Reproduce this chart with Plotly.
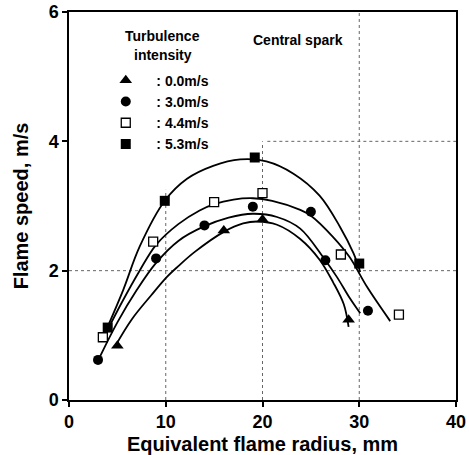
import plotly.graph_objects as go

# ---- data ----
# measured points
tri_x = [5.0, 16.0, 20.0, 28.9]
tri_y = [0.84, 2.62, 2.79, 1.24]
circ_x = [3.0, 9.0, 14.0, 19.0, 25.0, 26.5, 30.9]
circ_y = [0.62, 2.19, 2.70, 2.99, 2.91, 2.16, 1.38]
osq_x = [3.5, 8.7, 15.0, 20.0, 28.1, 34.1]
osq_y = [0.97, 2.45, 3.06, 3.20, 2.25, 1.32]
fsq_x = [4.0, 9.9, 19.2, 30.0]
fsq_y = [1.12, 3.08, 3.75, 2.11]

# fitted curves
c53_x = [3.9, 5.6, 7.3, 9.9, 12.2, 14.9, 17.7, 20.4, 23.2, 25.9, 28.0, 29.4, 30.1]
c53_y = [1.10, 1.70, 2.37, 3.08, 3.42, 3.62, 3.72, 3.69, 3.50, 3.16, 2.68, 2.27, 1.98]
c44_x = [3.7, 5.5, 7.3, 9.0, 11.3, 13.5, 15.0, 17.0, 19.0, 21.0, 23.9, 25.0, 27.3, 29.0, 30.8, 33.2]
c44_y = [1.00, 1.52, 2.00, 2.40, 2.72, 2.93, 3.03, 3.10, 3.12, 3.08, 2.94, 2.85, 2.52, 2.21, 1.75, 1.22]
c30_x = [3.2, 5.0, 7.0, 9.0, 11.3, 13.9, 16.5, 19.0, 21.5, 23.9, 26.3, 27.7, 29.0, 30.1]
c30_y = [0.67, 1.20, 1.70, 2.12, 2.46, 2.68, 2.82, 2.88, 2.83, 2.65, 2.20, 1.90, 1.58, 1.34]
c00_x = [4.8, 6.5, 8.5, 10.1, 11.3, 13.0, 16.0, 18.0, 19.5, 21.5, 23.9, 25.9, 27.3, 28.4, 28.9]
c00_y = [0.84, 1.25, 1.62, 1.90, 2.07, 2.29, 2.60, 2.73, 2.76, 2.71, 2.49, 2.17, 1.82, 1.48, 1.13]

x_ticks = [0, 10, 20, 30, 40]
y_ticks = [0, 2, 4, 6]
legend_names = ["\u00a0\u00a0\u2009:\u00a00.0m/s", "\u00a0\u00a0\u2009:\u00a03.0m/s",
                "\u00a0\u00a0\u2009:\u00a04.4m/s", "\u00a0\u00a0\u2009:\u00a05.3m/s"]

FONT = "Liberation Sans, Arial, sans-serif"

fig = go.Figure()

for cx, cy in [(c53_x, c53_y), (c44_x, c44_y), (c30_x, c30_y), (c00_x, c00_y)]:
    fig.add_trace(go.Scatter(x=cx, y=cy, mode="lines", line=dict(color="black", width=1.8, shape="spline", smoothing=1.0),
                             showlegend=False, hoverinfo="skip"))

fig.add_trace(go.Scatter(x=tri_x, y=tri_y, mode="markers", name=legend_names[0],
                         marker=dict(symbol="triangle-up", size=11, color="black")))
fig.add_trace(go.Scatter(x=circ_x, y=circ_y, mode="markers", name=legend_names[1],
                         marker=dict(symbol="circle", size=10, color="black")))
fig.add_trace(go.Scatter(x=osq_x, y=osq_y, mode="markers", name=legend_names[2],
                         marker=dict(symbol="square", size=9, color="white", line=dict(color="black", width=1.3))))
fig.add_trace(go.Scatter(x=fsq_x, y=fsq_y, mode="markers", name=legend_names[3],
                         marker=dict(symbol="square", size=10, color="black")))

# dotted grid lines (partly hidden behind the legend area, as in the reference)
grid = dict(color="#666", width=1, dash="dot")
shapes = [
    dict(type="line", xref="x", yref="y", x0=10, x1=10, y0=0, y1=3.25, line=grid, layer="below"),
    dict(type="line", xref="x", yref="y", x0=20, x1=20, y0=0, y1=4.0, line=grid, layer="below"),
    dict(type="line", xref="x", yref="y", x0=30, x1=30, y0=0, y1=6, line=grid, layer="below"),
    dict(type="line", xref="x", yref="y", x0=0, x1=40, y0=2, y1=2, line=grid, layer="below"),
    dict(type="line", xref="x", yref="y", x0=20.5, x1=40, y0=4, y1=4, line=grid, layer="below"),
]

fig.update_layout(
    width=469, height=455,
    margin=dict(l=69, r=13, t=12, b=55, autoexpand=False),
    paper_bgcolor="white", plot_bgcolor="white",
    font=dict(family=FONT, color="black"),
    shapes=shapes,
    showlegend=True,
    legend=dict(
        x=0.095, y=0.864, xanchor="left", yanchor="top",
        bgcolor="rgba(0,0,0,0)", borderwidth=0,
        font=dict(size=14, family=FONT, weight="bold"),
        itemsizing="trace", tracegroupgap=0,
    ),
    annotations=[
        dict(x=9.7, y=5.63, xref="x", yref="y", text="Turbulence", showarrow=False,
             font=dict(size=14, family=FONT, weight="bold")),
        dict(x=9.7, y=5.33, xref="x", yref="y", text="intensity", showarrow=False,
             font=dict(size=14, family=FONT, weight="bold")),
        dict(x=23.65, y=5.57, xref="x", yref="y", text="Central spark", showarrow=False,
             font=dict(size=14, family=FONT, weight="bold")),
    ],
)

fig.update_xaxes(
    range=[0, 40], tickvals=x_ticks, ticks="outside", ticklen=5, tickwidth=1.5, tickcolor="black",
    showline=True, linecolor="black", linewidth=1.5, mirror=True, showgrid=False, zeroline=False,
    tickfont=dict(size=18, family=FONT, weight="bold"), automargin=False,
    title=dict(text="Equivalent flame radius, mm", font=dict(size=20, family=FONT, weight="bold"), standoff=11),
)
fig.update_yaxes(
    range=[0, 6], tickvals=y_ticks, ticks="outside", ticklen=5, tickwidth=1.5, tickcolor="black",
    showline=True, linecolor="black", linewidth=1.5, mirror=True, showgrid=False, zeroline=False,
    tickfont=dict(size=18, family=FONT, weight="bold"), automargin=False,
    title=dict(text="Flame speed, m/s", font=dict(size=20, family=FONT, weight="bold"), standoff=15),
)

fig.write_html("out.html")
